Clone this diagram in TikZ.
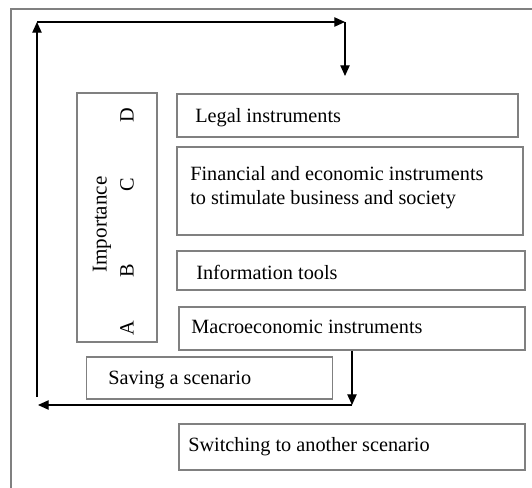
\documentclass[tikz,border=0pt]{standalone}
\usepackage{fontspec}
\setmainfont{Liberation Serif}
\usetikzlibrary{arrows.meta}
\begin{document}
\begin{tikzpicture}[x=0.75pt,y=-0.75pt,
  box/.style={draw=black!50, line width=1.1pt, rectangle, inner sep=0pt},
  frame/.style={draw=black!50, line width=1.1pt},
  flow/.style={draw=black, line width=0.9pt, -{Triangle[length=8pt,width=7pt]}},
  txt/.style={inner sep=0pt, anchor=base west, font=\fontsize{15.2}{18.4}\selectfont},
  rot/.style={inner sep=0pt, rotate=90, font=\fontsize{15.2}{18.4}\selectfont}]
\useasboundingbox (0,0) rectangle (532,488);
% outer frame (open on right and bottom)
\coordinate (fTR) at (532,9);
\coordinate (fTL) at (11,9);
\coordinate (fBL) at (11,488);
\draw[frame] (fTR) -- (fTL) -- (fBL);

% boxes
\node[box, minimum width=80*0.75pt, minimum height=249*0.75pt] (imp) at (117,217.5) {};
\node[box, minimum width=341*0.75pt, minimum height=43*0.75pt] (legal) at (347.5,115.5) {};
\node[box, minimum width=346*0.75pt, minimum height=88*0.75pt] (fin) at (350,191) {};
\node[box, minimum width=348*0.75pt, minimum height=39*0.75pt] (info) at (351,270.5) {};
\node[box, minimum width=346*0.75pt, minimum height=43*0.75pt] (macro) at (352,328.5) {};
\node[box, minimum width=246*0.75pt, minimum height=42*0.75pt] (save) at (209.5,378) {};
\node[box, minimum width=346*0.75pt, minimum height=46*0.75pt] (switch) at (352,447) {};

% texts
\node[txt] (tlegal) at (195,122.8) {Legal instruments};
\node[txt] (tfin1) at (190,180.5) {Financial and economic instruments};
\node[txt] (tfin2) at (190,205) {to stimulate business and society};
\node[txt] (tinfo) at (196,279.6) {Information tools};
\node[txt] (tmacro) at (191,334) {Macroeconomic instruments};
\node[txt] (tsave) at (108,384.5) {Saving a scenario};
\node[txt] (tswitch) at (188,451.7) {Switching to another scenario};

% rotated labels
\node[rot, font=\fontsize{15.8}{18}\selectfont] (timp) at (102,224.5) {Importance};
\node[rot] (lD) at (127,115) {D};
\node[rot] (lC) at (127,185) {C};
\node[rot] (lB) at (127,271) {B};
\node[rot] (lA) at (127,328) {A};

% feedback loop
\coordinate (lb) at (37,397);
\coordinate (lt) at (37,22);
\coordinate (rt) at (345,22);
\coordinate (rd) at (345,76);
\draw[flow] (lb) -- (lt);
\draw[flow] (lt) -- (rt);
\draw[flow] (rt) -- (rd);

\coordinate (mb) at (352,405);
\coordinate (ml) at (38,405);
\draw[flow] (macro.south -| mb) -- (mb);
\draw[flow] (mb) -- (ml);
\end{tikzpicture}
\end{document}
